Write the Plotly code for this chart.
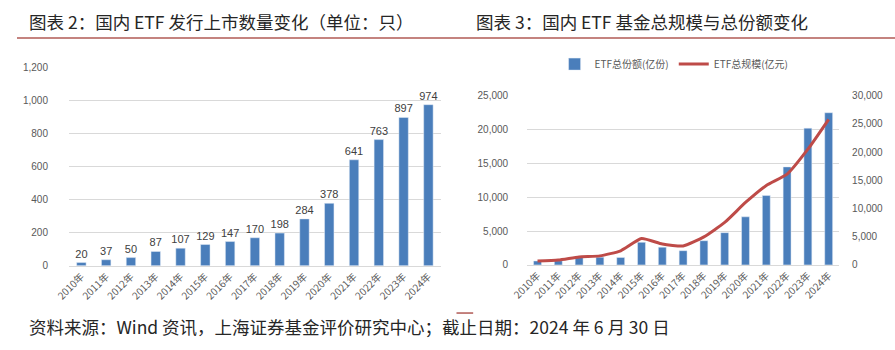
import plotly.graph_objects as go

years = ["2010年", "2011年", "2012年", "2013年", "2014年", "2015年", "2016年", "2017年",
         "2018年", "2019年", "2020年", "2021年", "2022年", "2023年", "2024年"]
etf_count = [20, 37, 50, 87, 107, 129, 147, 170, 198, 284, 378, 641, 763, 897, 974]
total_shares = [580, 620, 1290, 1140, 1100, 3330, 2620, 2100, 3570, 4760, 7100, 10240, 14470, 20190, 22470]
total_scale = [700, 860, 1420, 1600, 2500, 4670, 3700, 3360, 4960, 7530, 11060, 14080, 16080, 20500, 25800]

title_left = "图表 2：国内 ETF 发行上市数量变化（单位：只）"
title_right = "图表 3：国内 ETF 基金总规模与总份额变化"
footer = "资料来源：Wind 资讯，上海证券基金评价研究中心；截止日期：2024 年 6 月 30 日"

W, H = 895, 350
BLUE = "#4a7ebb"
RED = "#be4b48"
TICK = dict(family="Liberation Sans, Arial", size=10, color="#595959")
CJK = "Noto Sans CJK SC"

def px_x(x):
    return x / W

def px_y(y):
    return 1 - y / H

fig = go.Figure()

fig.add_trace(go.Bar(
    x=years, y=etf_count, xaxis="x", yaxis="y", marker_color=BLUE,
    text=[str(v) for v in etf_count], textposition="outside", cliponaxis=False,
    constraintext="none",
    textfont=dict(family="Liberation Sans, Arial", size=11, color="#404040"),
    showlegend=False,
))

fig.add_trace(go.Bar(
    x=years, y=total_shares, xaxis="x2", yaxis="y2", marker_color=BLUE,
    name="ETF总份额(亿份)",
))
fig.add_trace(go.Scatter(
    x=years, y=total_scale, xaxis="x2", yaxis="y3", mode="lines",
    line=dict(color=RED, width=3, shape="spline", smoothing=0.5),
    name="ETF总规模(亿元)",
))

common_x = dict(type="category", tickangle=-45, tickfont=dict(family=CJK, size=10, color="#595959"),
                showline=True, linecolor="#d9d9d9", linewidth=1, showgrid=False, ticks="",
                fixedrange=True)

fig.update_layout(
    width=W, height=H,
    margin=dict(l=0, r=0, t=0, b=0),
    paper_bgcolor="white", plot_bgcolor="white",
    bargap=0.62,
    xaxis=dict(domain=[px_x(53), px_x(432)], anchor="y", **common_x),
    yaxis=dict(domain=[px_y(268.3), px_y(63.3)], anchor="x", range=[0, 1200], dtick=200,
               tickformat=",", tickfont=TICK, gridcolor="#d9d9d9", zeroline=False,
               showline=False, ticks="", ticklabelstandoff=20),
    xaxis2=dict(domain=[px_x(520), px_x(838)], anchor="y2", **common_x),
    yaxis2=dict(domain=[px_y(267.3), px_y(92.5)], anchor="x2", range=[0, 25000], dtick=5000,
                tickformat=",", tickfont=TICK, gridcolor="#d9d9d9", zeroline=False,
                showline=False, ticks="", ticklabelstandoff=18),
    yaxis3=dict(overlaying="y2", side="right", anchor="x2", range=[0, 30000], dtick=5000,
                tickformat=",", tickfont=TICK, showgrid=False, zeroline=False,
                showline=False, ticks="", ticklabelstandoff=12),
    legend=dict(orientation="h", x=px_x(548), y=px_y(60), xanchor="left", yanchor="middle",
                font=dict(family=CJK, size=10, color="#595959"), itemwidth=30,
                bgcolor="rgba(0,0,0,0)", traceorder="normal"),
    font=dict(family=CJK),
)

fig.add_annotation(text=title_left, x=px_x(10), y=px_y(16), xref="paper", yref="paper",
                   xanchor="left", yanchor="middle", showarrow=False,
                   font=dict(family=CJK, size=17.5, color="#262626"))
fig.add_annotation(text=title_right, x=px_x(466), y=px_y(16), xref="paper", yref="paper",
                   xanchor="left", yanchor="middle", showarrow=False,
                   font=dict(family=CJK, size=17.5, color="#262626"))
fig.add_annotation(text=footer, x=px_x(10), y=px_y(331), xref="paper", yref="paper",
                   xanchor="left", yanchor="middle", showarrow=False,
                   font=dict(family=CJK, size=17.5, color="#262626"))

fig.add_shape(type="line", xref="paper", yref="paper", x0=0, x1=1, y0=px_y(33), y1=px_y(33),
              line=dict(color="#b05a55", width=1.5))
fig.add_shape(type="line", xref="paper", yref="paper", x0=px_x(448), x1=px_x(465),
              y0=px_y(317), y1=px_y(317), line=dict(color="#b05a55", width=1.5))

fig.write_html("out.html")
